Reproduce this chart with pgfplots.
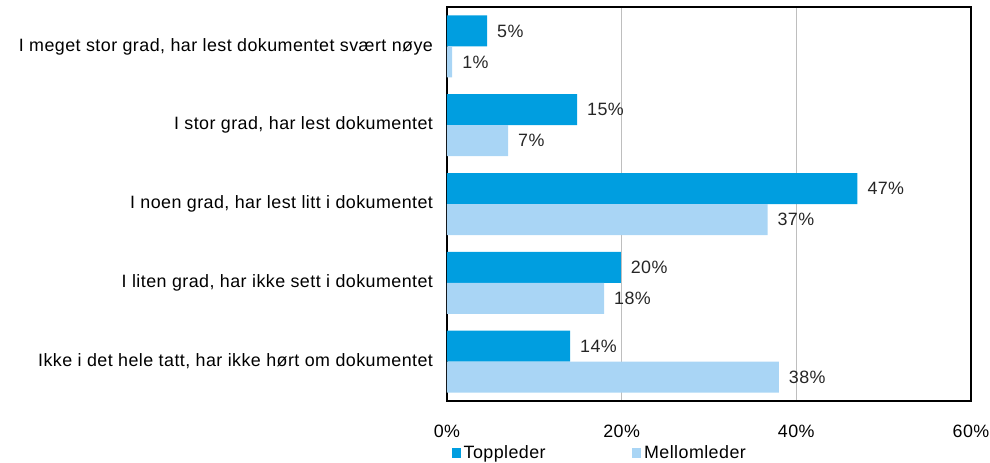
\documentclass[border=0pt]{standalone}
\usepackage{fontspec}
\setmainfont[LetterSpace=2.5]{Liberation Sans}
\usepackage{pgfplots}
\pgfplotsset{compat=1.18}
\definecolor{topc}{RGB}{0,158,224}
\definecolor{midc}{RGB}{169,213,245}
\definecolor{gridc}{RGB}{190,190,190}
\begin{document}
\begin{tikzpicture}
\begin{axis}[
  at={(0,0)}, anchor=south west,
  scale only axis,
  width=393pt, height=295.5pt,
  font=\fontsize{13.4}{16}\selectfont,
  /pgf/number format/assume math mode=true,
  xmin=0, xmax=60,
  ymin=-0.5, ymax=4.5,
  y dir=reverse,
  xtick={0,20,40,60},
  xticklabels={0\%,20\%,40\%,60\%},
  ytick={0,1,2,3,4},
  yticklabels={I meget stor grad{,} har lest dokumentet svært nøye,
    I stor grad{,} har lest dokumentet,
    I noen grad{,} har lest litt i dokumentet,
    I liten grad{,} har ikke sett i dokumentet,
    Ikke i det hele tatt{,} har ikke hørt om dokumentet},
  major tick length=0pt,
  xmajorgrids,
  major grid style={gridc, line width=0.9pt},
  axis line style={black, line width=1.2pt},
  xticklabel style={yshift=-14.5pt},
  yticklabel style={xshift=-7pt},
  xbar,
  bar width=0.3934,
  point meta=explicit symbolic,
  nodes near coords,
  every node near coord/.append style={anchor=west, font=\fontsize{13.4}{16}\selectfont, xshift=4pt, text=black!85},
  legend columns=2,
  legend style={draw=none, at={(rel axis cs:0,0)}, anchor=west, xshift=0.5pt, yshift=-39pt,
    font=\fontsize{13.4}{16}\selectfont,
    /tikz/every even column/.append style={column sep=63pt}},
  legend image code/.code={\fill[#1] (-2.25pt,-3.4pt) rectangle (4.55pt,3.4pt);},
]
\addplot[fill=topc, draw=none, bar shift=-0.1967] coordinates {
  (4.6,0) [5\%]
  (14.9,1) [15\%]
  (47.0,2) [47\%]
  (19.9,3) [20\%]
  (14.1,4) [14\%]
};
\addplot[fill=midc, draw=none, bar shift=0.1967] coordinates {
  (0.6,0) [1\%]
  (7.0,1) [7\%]
  (36.7,2) [37\%]
  (18.0,3) [18\%]
  (38.0,4) [38\%]
};
\legend{Toppleder, Mellomleder}
\end{axis}
\pgfresetboundingbox
\path (-335.25pt,-46.5pt) rectangle (407.25pt,300.75pt);
\end{tikzpicture}
\end{document}
